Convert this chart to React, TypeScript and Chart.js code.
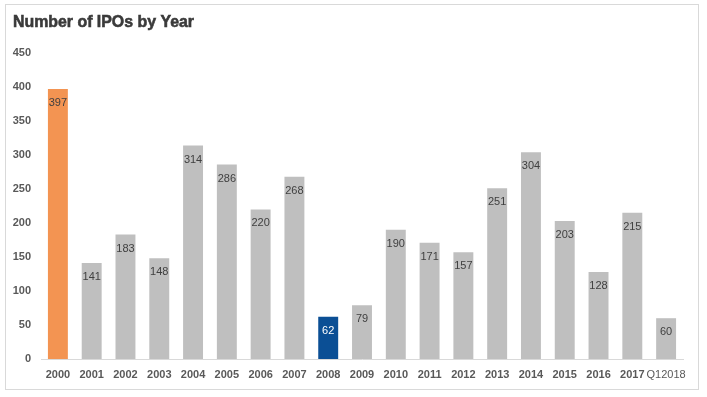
import React, { useEffect, useRef } from "react";
import { Chart, registerables } from "chart.js";

Chart.register(...registerables);

const categories = ["2000","2001","2002","2003","2004","2005","2006","2007","2008","2009","2010","2011","2012","2013","2014","2015","2016","2017","Q12018"];
const ipoCounts = [397,141,183,148,314,286,220,268,62,79,190,171,157,251,304,203,128,215,60];
const yTicks = [0,50,100,150,200,250,300,350,400,450];
const titleText = "Number of IPOs by Year";

const GRAY = "#BFBFBF";
const ORANGE = "#F39452";
const BLUE = "#0B4F95";

export default function App() {
  const ref = useRef<HTMLCanvasElement>(null);
  useEffect(() => {
    const colors = categories.map((c, i) => (i === 0 ? ORANGE : c === "2008" ? BLUE : GRAY));
    const decor = {
      id: "decor",
      beforeDraw(chart: any) {
        const ctx = chart.ctx;
        ctx.save();
        ctx.fillStyle = "#ffffff";
        ctx.fillRect(0, 0, chart.width, chart.height);
        ctx.strokeStyle = "#D9D9D9";
        ctx.lineWidth = 1;
        ctx.strokeRect(5.5, 4.5, 693, 385);
        ctx.fillStyle = "#3A3A3A";
        ctx.font = "bold 17px 'Liberation Sans', sans-serif";
        ctx.textBaseline = "alphabetic";
        ctx.textAlign = "left";
        const w = ctx.measureText(titleText).width;
        const target = 181;
        ctx.translate(13, 27);
        ctx.scale(target / w, 1);
        ctx.fillText(titleText, 0, 0);
        ctx.strokeStyle = "#3A3A3A";
        ctx.lineWidth = 0.6;
        ctx.strokeText(titleText, 0, 0);
        ctx.restore();
      },
      afterDatasetsDraw(chart: any) {
        const ctx = chart.ctx;
        const meta = chart.getDatasetMeta(0);
        ctx.save();
        ctx.font = "11px 'Liberation Sans', sans-serif";
        ctx.textAlign = "center";
        ctx.textBaseline = "middle";
        meta.data.forEach((bar: any, i: number) => {
          ctx.fillStyle = categories[i] === "2008" ? "#ffffff" : "#404040";
          ctx.fillText(String(ipoCounts[i]), bar.x, bar.y + 14);
        });
        ctx.restore();
      },
    };
    const chart = new Chart(ref.current!, {
      type: "bar",
      data: {
        labels: categories,
        datasets: [{ data: ipoCounts, backgroundColor: colors, categoryPercentage: 1, barPercentage: 0.59 }],
      },
      options: {
        animation: false,
        responsive: false,
        layout: { padding: { left: 0, right: 24, top: 53, bottom: 0 } },
        plugins: { legend: { display: false }, tooltip: { enabled: false }, title: { display: false } },
        scales: {
          x: {
            grid: { display: false, drawTicks: false },
            border: { display: true, color: "#D9D9D9" },
            ticks: {
              padding: 9,
              color: "#595959",
              font: (c: any) => ({ size: 11, weight: c.index === categories.length - 1 ? "normal" : "bold", family: "'Liberation Sans', sans-serif" }),
              maxRotation: 0,
              autoSkip: false,
            },
            afterFit(s: any) { s.height = 38; },
          },
          y: {
            min: 0,
            max: 450,
            grid: { display: false, drawTicks: false },
            border: { display: false },
            afterBuildTicks(s: any) { s.ticks = yTicks.map((v) => ({ value: v })); },
            ticks: { padding: 10, color: "#595959", font: { size: 11, weight: "bold", family: "'Liberation Sans', sans-serif" } },
            afterFit(s: any) { s.width = 41; },
          },
        },
      },
      plugins: [decor],
    });
    return () => chart.destroy();
  }, []);
  return (
    <div style={{ position: "fixed", left: 0, top: 0, width: 707, height: 397 }}>
      <canvas ref={ref} width={707} height={397} style={{ width: 707, height: 397, display: "block" }} />
    </div>
  );
}
